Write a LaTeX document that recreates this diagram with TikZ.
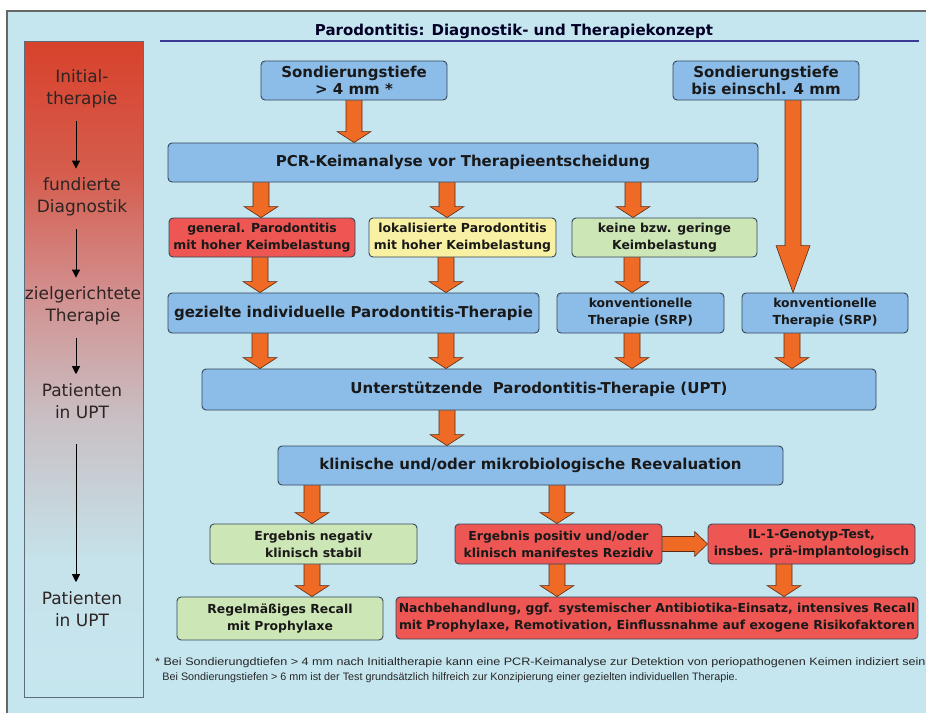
\documentclass[tikz,border=0pt]{standalone}
\usepackage{fontspec}
\setmainfont{DejaVu Sans}
\newfontfamily\notefont{Liberation Sans}
\usetikzlibrary{calc,arrows.meta}
\pgfdeclarelayer{bg}
\pgfdeclarelayer{arr}
\pgfsetlayers{bg,arr,main}
\definecolor{bgblue}{HTML}{C6E6EF}
\definecolor{boxblue}{HTML}{8CBDE9}
\definecolor{boxred}{HTML}{EE5654}
\definecolor{boxyel}{HTML}{F8F0A2}
\definecolor{boxgrn}{HTML}{CDE6B6}
\definecolor{boxline}{HTML}{34465A}
\definecolor{arrfill}{HTML}{EF6A24}
\definecolor{arrline}{HTML}{5A2A12}
\definecolor{sidetext}{HTML}{2E2424}
\definecolor{titleline}{HTML}{3B3B96}
\tikzset{
  box/.style={draw=boxline, line width=0.9pt, rounded corners=4pt, inner sep=0pt, align=center, font=\bfseries\fontsize{15}{17.5}\selectfont, text=black!90},
  bigbox/.style={box, fill=boxblue},
  smallbox/.style={box, font=\bfseries\fontsize{12.4}{17}\selectfont},
  sidelbl/.style={align=center, text=sidetext, font=\fontsize{17}{22}\selectfont, inner sep=0pt},
  sidearrow/.style={draw=black, line width=0.9pt, -{Triangle[length=8pt,width=8pt]}},
  fatarrow/.style={fill=arrfill, draw=arrline, line width=0.6pt, line join=miter},
}
\newcommand\farr[4][11]{%
  \begin{pgfonlayer}{arr}
  \draw[fatarrow] let \p1=(#3.south), \p2=(#4.north) in
   (#2pt-8pt,\y1+2pt) -- (#2pt-8pt,\y2+#1pt) -- (#2pt-17pt,\y2+#1pt) -- (#2pt,\y2) --
   (#2pt+17pt,\y2+#1pt) -- (#2pt+8pt,\y2+#1pt) -- (#2pt+8pt,\y1+2pt) -- cycle;
  \end{pgfonlayer}}
\begin{document}
\begin{tikzpicture}[x=1pt,y=1pt]
\useasboundingbox (0,0) rectangle (926,-713);
\begin{pgfonlayer}{bg}
\fill[white] (0,0) rectangle (926,-713);
\fill[bgblue] (7,-11) rectangle (926,-713);
\draw[gray!80!black, line width=1.2pt] (7,-713) -- (7,-11) -- (926,-11);
% sidebar gradient
\shade[top color={rgb,255:red,216;green,66;blue,44}, bottom color={rgb,255:red,213;green,92;blue,76}] (24,-41) rectangle (143,-170);
\shade[top color={rgb,255:red,213;green,92;blue,76}, bottom color={rgb,255:red,210;green,146;blue,146}] (24,-170) rectangle (143,-300);
\shade[top color={rgb,255:red,210;green,146;blue,146}, bottom color={rgb,255:red,200;green,192;blue,196}] (24,-300) rectangle (143,-420);
\shade[top color={rgb,255:red,200;green,192;blue,196}, bottom color={rgb,255:red,198;green,226;blue,234}] (24,-420) rectangle (143,-560);
\shade[top color={rgb,255:red,198;green,226;blue,234}, bottom color=bgblue] (24,-560) rectangle (143,-697);
\draw[boxline!80, line width=0.9pt] (24,-41) rectangle (143,-697);
\end{pgfonlayer}

% title
\node[font=\bfseries\fontsize{15}{18}\selectfont, text=black!85!blue, inner sep=0pt] (title) at (514,-31) {Parodontitis: Diagnostik- und Therapiekonzept};
\draw[titleline, line width=1.6pt] (160,-41) -- (919,-41);

% sidebar labels
\node[sidelbl] (s1) at (82,-89) {Initial-\\therapie};
\node[sidelbl] (s2) at (82,-197) {fundierte\\Diagnostik};
\node[sidelbl] (s3) at (83,-306) {zielgerichtete\\Therapie};
\node[sidelbl] (s4) at (82,-401) {Patienten\\in UPT};
\node[sidelbl] (s5) at (82,-609) {Patienten\\in UPT};
\coordinate (ax) at (76,0);
\draw[sidearrow] (s1.south -| ax) ++(0,-13) coordinate (a1s) -- ($(s2.north -| ax)+(0,9)$) coordinate (a1e);
\draw[sidearrow] (s2.south -| ax) ++(0,-13) coordinate (a2s) -- ($(s3.north -| ax)+(0,9)$) coordinate (a2e);
\draw[sidearrow] (s3.south -| ax) ++(0,-13) coordinate (a3s) -- ($(s4.north -| ax)+(0,9)$) coordinate (a3e);
\draw[sidearrow] (s4.south -| ax) ++(0,-25) coordinate (a4s) -- ($(s5.north -| ax)+(0,9)$) coordinate (a4e);

% boxes
\node[bigbox, minimum width=186pt, minimum height=39pt] (b1) at (354,-80.5) {Sondierungstiefe\\> 4 mm *};
\node[bigbox, minimum width=186pt, minimum height=39pt] (b2) at (766,-80.5) {Sondierungstiefe\\bis einschl. 4 mm};
\node[bigbox, minimum width=590pt, minimum height=39pt] (pcr) at (463,-162.5) {PCR-Keimanalyse vor Therapieentscheidung};
\node[smallbox, fill=boxred, minimum width=186pt, minimum height=39pt] (b4) at (262,-237.5) {general. Parodontitis\\mit hoher Keimbelastung};
\node[smallbox, fill=boxyel, minimum width=187pt, minimum height=39pt] (b5) at (462.5,-237.5) {lokalisierte Parodontitis\\mit hoher Keimbelastung};
\node[smallbox, fill=boxgrn, minimum width=185pt, minimum height=39pt] (b6) at (664.5,-237.5) {keine bzw. geringe\\Keimbelastung};
\node[bigbox, minimum width=371pt, minimum height=40pt] (b7) at (353.5,-313) {gezielte individuelle Parodontitis-Therapie};
\node[smallbox, fill=boxblue, minimum width=167pt, minimum height=40pt] (b8) at (640.5,-313) {konventionelle\\Therapie (SRP)};
\node[smallbox, fill=boxblue, minimum width=166pt, minimum height=40pt] (b9) at (825,-313) {konventionelle\\Therapie (SRP)};
\node[bigbox, minimum width=674pt, minimum height=41pt] (upt) at (539,-389.5) {Unterstützende\ \ Parodontitis-Therapie (UPT)};
\node[bigbox, minimum width=505pt, minimum height=39pt] (reev) at (530.5,-465.5) {klinische und/oder mikrobiologische Reevaluation};
\node[smallbox, fill=boxgrn, minimum width=207pt, minimum height=40pt] (b12) at (313.5,-544) {Ergebnis negativ\\klinisch stabil};
\node[smallbox, fill=boxred, minimum width=207pt, minimum height=40pt] (b13) at (558.5,-544) {Ergebnis positiv und/oder\\klinisch manifestes Rezidiv};
\node[smallbox, fill=boxred, minimum width=207pt, minimum height=40pt] (b14) at (811.5,-544) {IL-1-Genotyp-Test,\\insbes. prä-implantologisch};
\node[smallbox, fill=boxgrn, minimum width=206pt, minimum height=43pt] (b15) at (280,-618.5) {Regelmäßiges Recall\\mit Prophylaxe};
\node[smallbox, fill=boxred, minimum width=522pt, minimum height=42pt] (b16) at (657,-618) {Nachbehandlung, ggf. systemischer Antibiotika-Einsatz, intensives Recall\\mit Prophylaxe, Remotivation, Einflussnahme auf exogene Risikofaktoren};

% fat arrows
\farr{354}{b1}{pcr}
\farr{261}{pcr}{b4}
\farr{447}{pcr}{b5}
\farr{633}{pcr}{b6}
\farr[47]{793}{b2}{b9}
\farr{260}{b4}{b7}
\farr{446}{b5}{b7}
\farr{632}{b6}{b8}
\farr{260}{b7}{upt}
\farr{446}{b7}{upt}
\farr{632}{b8}{upt}
\farr{792}{b9}{upt}
\farr{447}{upt}{reev}
\farr{312}{reev}{b12}
\farr{557}{reev}{b13}
\farr{312}{b12}{b15}
\farr{557}{b13}{b16}
\farr{784}{b14}{b16}
\begin{pgfonlayer}{arr}
\draw[fatarrow] let \p1=(b13.east), \p2=(b14.west) in
  (\x1-2pt,\y1+7.5pt) -- (\x2-13pt,\y1+7.5pt) -- (\x2-13pt,\y1+12.5pt) -- (\x2,\y1) --
  (\x2-13pt,\y1-12.5pt) -- (\x2-13pt,\y1-7.5pt) -- (\x1-2pt,\y1-7.5pt) -- cycle;
\end{pgfonlayer}

% footnote
\node[anchor=north west, align=left, inner sep=0pt, font=\notefont\fontsize{10.8}{15}\selectfont, text=black!85] (note) at (155,-657)
 {\scalebox{1.165}[1]{* Bei Sondierungdtiefen > 4 mm nach Initialtherapie kann eine PCR-Keimanalyse zur Detektion von periopathogenen Keimen indiziert sein}\\
 \phantom{* }Bei Sondierungstiefen > 6 mm ist der Test grundsätzlich hilfreich zur Konzipierung einer gezielten individuellen Therapie.};
\end{tikzpicture}
\end{document}
